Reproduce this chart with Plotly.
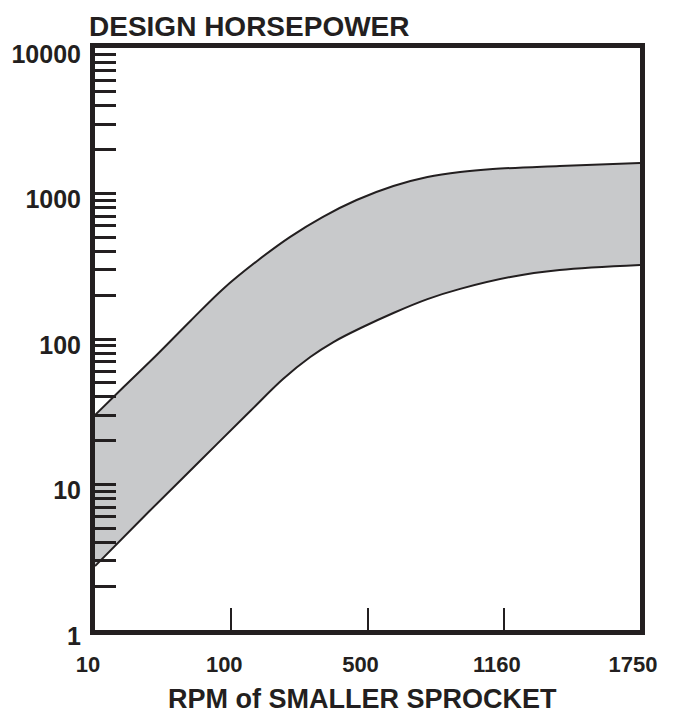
import plotly.graph_objects as go

# x axis: evenly spaced RPM marks (drawn in position units 0..4)
rpm_labels = ['10', '100', '500', '1160', '1750']
rpm_pos = [0, 1, 2, 3, 4]

# upper edge of band (design horsepower)
upper_x = [0, 0.21, 0.46, 0.70, 0.94, 1.19, 1.43, 1.67, 1.92, 2.19, 2.44, 2.68, 2.92, 3.41, 4.0]
upper_hp = [30, 46.8, 78.9, 133, 221, 344, 502, 689, 902, 1126, 1298, 1406, 1473, 1545, 1622]

# lower edge of band
lower_x = [0, 0.40, 0.77, 1.14, 1.38, 1.58, 1.75, 1.95, 2.19, 2.44, 2.68, 3.05, 3.41, 4.0]
lower_hp = [2.75, 6.57, 14.5, 32.0, 53.1, 75.2, 95.3, 119, 151, 188, 221, 267, 298, 323]

# y ticks: every digit of each decade, labels only on decades
y_tickvals = [d * 10 ** e for e in range(4) for d in range(1, 10)] + [10000]
y_ticktext = [str(v) if str(v).strip('0') == '1' else '' for v in y_tickvals]

ink = '#231f20'
band = '#c8c9cb'

fig = go.Figure()
fig.add_trace(go.Scatter(x=lower_x, y=lower_hp, mode='lines',
                         line=dict(color=ink, width=2, shape='spline', smoothing=1),
                         showlegend=False, hoverinfo='skip'))
fig.add_trace(go.Scatter(x=upper_x, y=upper_hp, mode='lines', fill='tonexty', fillcolor=band,
                         line=dict(color=ink, width=2, shape='spline', smoothing=1),
                         showlegend=False, hoverinfo='skip'))

fig.update_xaxes(
    range=[0, 4], tickvals=rpm_pos, ticktext=rpm_labels,
    ticks='inside', ticklen=22, tickwidth=2, tickcolor=ink,
    showline=True, linewidth=5, linecolor=ink, mirror=True,
    showgrid=False, zeroline=False, automargin=False,
    ticklabelstandoff=11, ticklabelshift=-7,
    tickfont=dict(family='Liberation Sans, Arial', size=22, color=ink, weight='bold'),
)
fig.update_yaxes(
    type='log', range=[0, 4], tickvals=y_tickvals, ticktext=y_ticktext,
    ticks='inside', ticklen=21, tickwidth=2.5, tickcolor=ink,
    showline=True, linewidth=5, linecolor=ink, mirror=True,
    showgrid=False, zeroline=False, automargin=False,
    ticklabelstandoff=4, ticklabelshift=6,
    tickfont=dict(family='Liberation Sans, Arial', size=25, color=ink, weight='bold'),
)

fig.add_annotation(text='DESIGN HORSEPOWER', xref='paper', yref='paper', x=0, y=1,
                   xanchor='left', yanchor='middle', xshift=-8, yshift=22, showarrow=False,
                   font=dict(family='Liberation Sans, Arial', size=28, color=ink, weight='bold'))
fig.add_annotation(text='RPM of SMALLER SPROCKET', xref='paper', yref='paper', x=0.49, y=0,
                   xanchor='center', yanchor='middle', yshift=-69, showarrow=False,
                   font=dict(family='Liberation Sans, Arial', size=27, color=ink, weight='bold'))

# page body has an 8px margin, so the figure is a bit smaller than the window
fig.update_layout(
    width=658, height=705,
    margin=dict(l=87, r=26, t=40, b=83),
    plot_bgcolor='white', paper_bgcolor='white',
)

fig.write_html('out.html')
